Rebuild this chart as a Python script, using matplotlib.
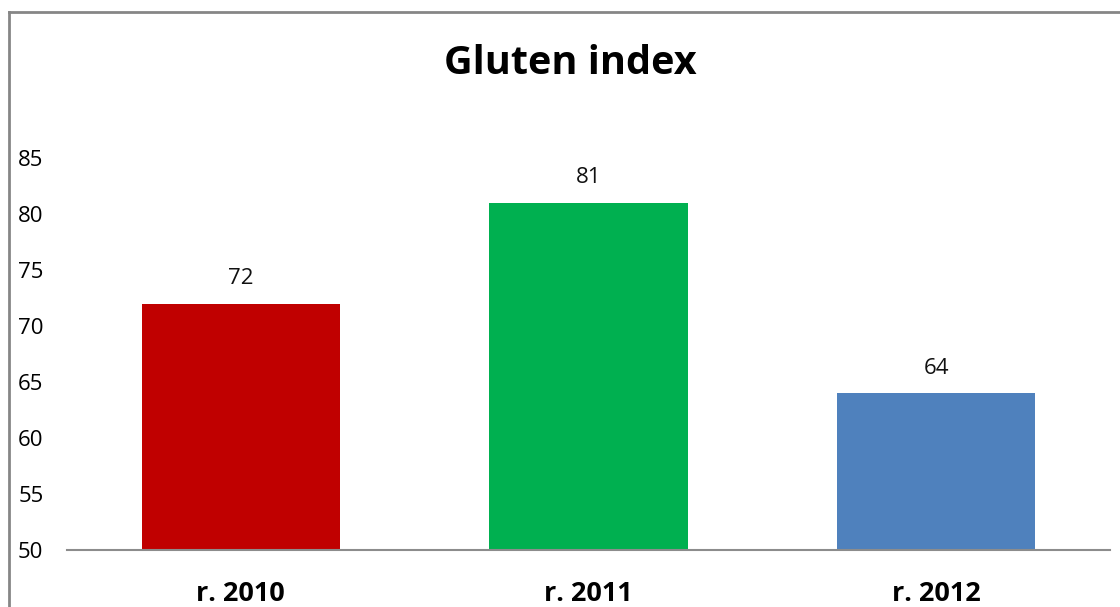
import matplotlib
matplotlib.use("Agg")
import matplotlib.pyplot as plt
from matplotlib.lines import Line2D

# Data
years = ["r. 2010", "r. 2011", "r. 2012"]
gluten = [72, 81, 64]
colors = ["#C00000", "#00B050", "#4F81BD"]
yticks = [50, 55, 60, 65, 70, 75, 80, 85]

plt.rcParams["font.family"] = ["Open Sans", "DejaVu Sans"]

fig = plt.figure(figsize=(11.2, 6.07), dpi=100)
ax = fig.add_axes([67 / 1120, 1 - 550 / 607, 1043 / 1120, 392 / 607])

x = range(len(years))
bars = ax.bar(x, [v - 50 for v in gluten], bottom=50, width=0.57, color=colors)
for xi, v in zip(x, gluten):
    ax.text(xi, v + 1.3, str(v), ha="center", va="bottom", fontsize=16, color="#111111")

ax.set_xlim(-0.5, 2.5)
ax.set_ylim(50, 85)
ax.set_yticks(yticks)
ax.set_yticklabels([str(t) for t in yticks], fontsize=16)
ax.set_xticks(list(x))
ax.set_xticklabels(years, fontsize=19.5, fontweight="bold")
ax.tick_params(axis="y", length=0, pad=17)
ax.tick_params(axis="x", length=0, pad=22)

for s in ["top", "right", "left"]:
    ax.spines[s].set_visible(False)
ax.spines["bottom"].set_color("#8C8C8C")
ax.spines["bottom"].set_linewidth(1.5)

fig.text(570 / 1120, 1 - 63 / 607, "Gluten index", ha="center", va="center",
         fontsize=28.5, fontweight="bold")

# chart border
bx, by = 8.5 / 1120, 1 - 11.5 / 607
fig.add_artist(Line2D([bx, bx], [0, by], color="#868686", lw=2, transform=fig.transFigure))
fig.add_artist(Line2D([bx, 1], [by, by], color="#868686", lw=2, transform=fig.transFigure))

fig.savefig("out.png", dpi=100)
